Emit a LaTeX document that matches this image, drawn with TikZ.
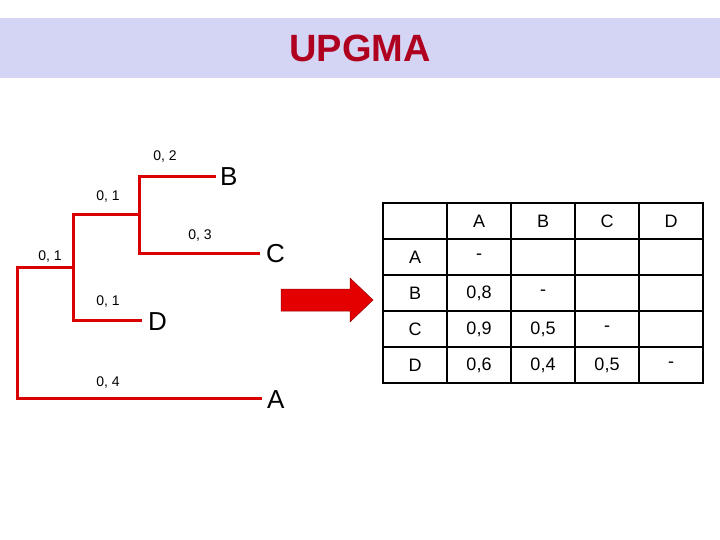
\documentclass[tikz,border=0pt]{standalone}
\usepackage{fontspec}
\setmainfont{Liberation Sans}
\begin{document}
\begin{tikzpicture}[x=1pt,y=-1pt,
  br/.style={draw=red!85!black,line width=3pt,line cap=rect},
  lab/.style={font=\fontsize{14}{16}\selectfont,inner sep=0pt},
  leaf/.style={font=\fontsize{26}{28}\selectfont,inner sep=0pt,anchor=west},
  cell/.style={font=\fontsize{18}{20}\selectfont,inner sep=0pt}]
\useasboundingbox (0,0) rectangle (720,540);
\fill[fill={rgb,255:red,212;green,212;blue,244}] (0,18) rectangle (720,78);
\node[font=\fontsize{38}{40}\selectfont\bfseries,text={rgb,255:red,176;green,0;blue,32}] (t) at (360,48) {UPGMA};
% tree
\coordinate (r1) at (17,267); \coordinate (r2) at (17,398);
\coordinate (n1) at (73,267); \coordinate (n1t) at (73,215); \coordinate (n1b) at (73,320);
\coordinate (n2) at (139,215); \coordinate (n2t) at (139,177); \coordinate (n2b) at (139,253);
\coordinate (eB) at (214,177); \coordinate (eC) at (258,253); \coordinate (eD) at (140,320); \coordinate (eA) at (260,398);
\draw[br] (eA) -- (r2) -- (r1) -- (n1);
\draw[br] (n2) -- (n1t) -- (n1b) -- (eD);
\draw[br] (eB) -- (n2t) -- (n2b) -- (eC);
\node[lab] (l1) at (165,157) {0, 2};
\node[lab] (l2) at (108,197) {0, 1};
\node[lab] (l3) at (200,236) {0, 3};
\node[lab] (l4) at (50,257) {0, 1};
\node[lab] (l5) at (108,302) {0, 1};
\node[lab] (l6) at (108,383) {0, 4};
\node[leaf] (B) at (220,177) {B};
\node[leaf] (C) at (266,254) {C};
\node[leaf] (D) at (148,322) {D};
\node[leaf] (A) at (267,400) {A};
% arrow
\fill[red!90!black,draw=red!60!black,line width=0.5pt] (281,289) -- (350,289) -- (350,278) -- (373,300) -- (350,322) -- (350,311) -- (281,311) -- cycle;
% table
\draw[line width=1.5pt] (383,203) rectangle (703,383);
\foreach \x in {447,511,575,639} \draw[line width=1.5pt] (\x,203) -- (\x,383);
\foreach \y in {239,275,311,347} \draw[line width=1.5pt] (383,\y) -- (703,\y);
\node[cell] (hA) at (479,221) {A};
\node[cell] (hB) at (543,221) {B};
\node[cell] (hC) at (607,221) {C};
\node[cell] (hD) at (671,221) {D};
\node[cell] (rA) at (415,257) {A};
\node[cell] (rB) at (415,293) {B};
\node[cell] (rC) at (415,329) {C};
\node[cell] (rD) at (415,365) {D};
\node[cell] (c11) at (479,257) {-};
\node[cell] (c21) at (479,293) {0,8};
\node[cell] (c22) at (543,293) {-};
\node[cell] (c31) at (479,329) {0,9};
\node[cell] (c32) at (543,329) {0,5};
\node[cell] (c33) at (607,329) {-};
\node[cell] (c41) at (479,365) {0,6};
\node[cell] (c42) at (543,365) {0,4};
\node[cell] (c43) at (607,365) {0,5};
\node[cell] (c44) at (671,365) {-};
\end{tikzpicture}
\end{document}
